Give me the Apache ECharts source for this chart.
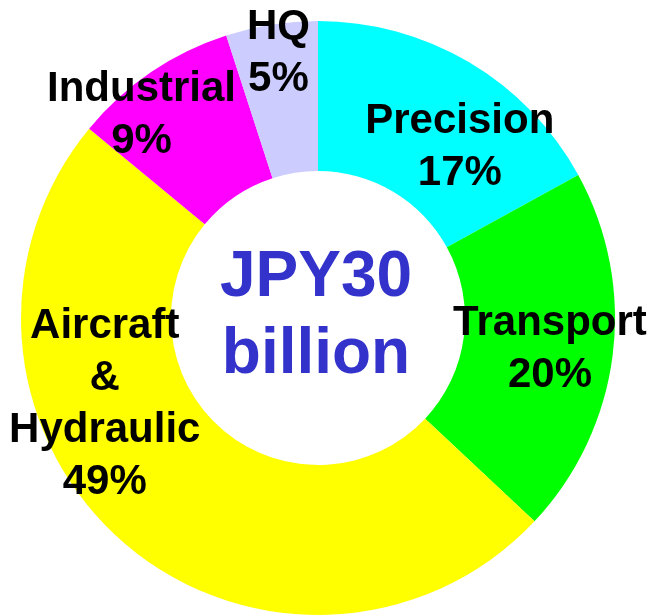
<!DOCTYPE html>
<html>
<head>
<meta charset="utf-8">
<script src="https://cdn.jsdelivr.net/npm/echarts@6/dist/echarts.min.js"></script>
<style>
  html, body { margin: 0; padding: 0; background: #ffffff; }
  #chart { width: 651px; height: 616px; }
</style>
</head>
<body>
<div id="chart"></div>
<script>
// Segment breakdown (percent of total), clockwise from 12 o'clock
var segments = ['Precision', 'Transport', 'Aircraft\n&\nHydraulic', 'Industrial', 'HQ'];
var shares = [17, 20, 49, 9, 5];
var segmentColors = ['#00FFFF', '#00FF00', '#FFFF00', '#FF00FF', '#CCCCFF'];
var totalLines = ['JPY30', 'billion'];

// Ring geometry (px)
var cx = 318, cy = 318, rInner = 147, rOuter = 297;
// Label anchor for each segment: [degrees clockwise from top, distance from centre]
var labelPolar = [[39.7, 222], [97.6, 234], [248, 230], [319, 269], [351.5, 268]];

var chart = echarts.init(document.getElementById('chart'), null, { renderer: 'canvas' });

var data = segments.map(function (name, i) {
  return { name: name, value: shares[i], itemStyle: { color: segmentColors[i] } };
});

chart.setOption({
  animation: false,
  backgroundColor: '#ffffff',
  series: [{
    type: 'pie',
    center: [cx, cy],
    radius: [rInner, rOuter],
    startAngle: 90,
    clockwise: true,
    avoidLabelOverlap: false,
    silent: true,
    itemStyle: { borderWidth: 0 },
    label: {
      show: true,
      position: 'inside',
      formatter: '{b}\n{c}%',
      color: '#000000',
      fontFamily: 'Liberation Sans, Arial, sans-serif',
      fontWeight: 'bold',
      fontSize: 42,
      lineHeight: 52,
      align: 'center',
      verticalAlign: 'middle',
      textBorderWidth: 0
    },
    labelLine: { show: false },
    labelLayout: function (p) {
      var a = labelPolar[p.dataIndex][0] * Math.PI / 180;
      var r = labelPolar[p.dataIndex][1];
      return { x: cx + r * Math.sin(a), y: cy - r * Math.cos(a), align: 'center', verticalAlign: 'middle' };
    },
    data: data
  }],
  graphic: [{
    type: 'text',
    x: cx - 2,
    y: cy - 1.5,
    style: {
      text: totalLines.join('\n'),
      fill: '#3333CC',
      font: 'bold 64px "Liberation Sans", Arial, sans-serif',
      lineHeight: 77,
      align: 'center',
      verticalAlign: 'middle',
      textShadowColor: '#A0A0A0',
      textShadowOffsetX: 3,
      textShadowOffsetY: 3,
      textShadowBlur: 0
    }
  }]
});
</script>
</body>
</html>
